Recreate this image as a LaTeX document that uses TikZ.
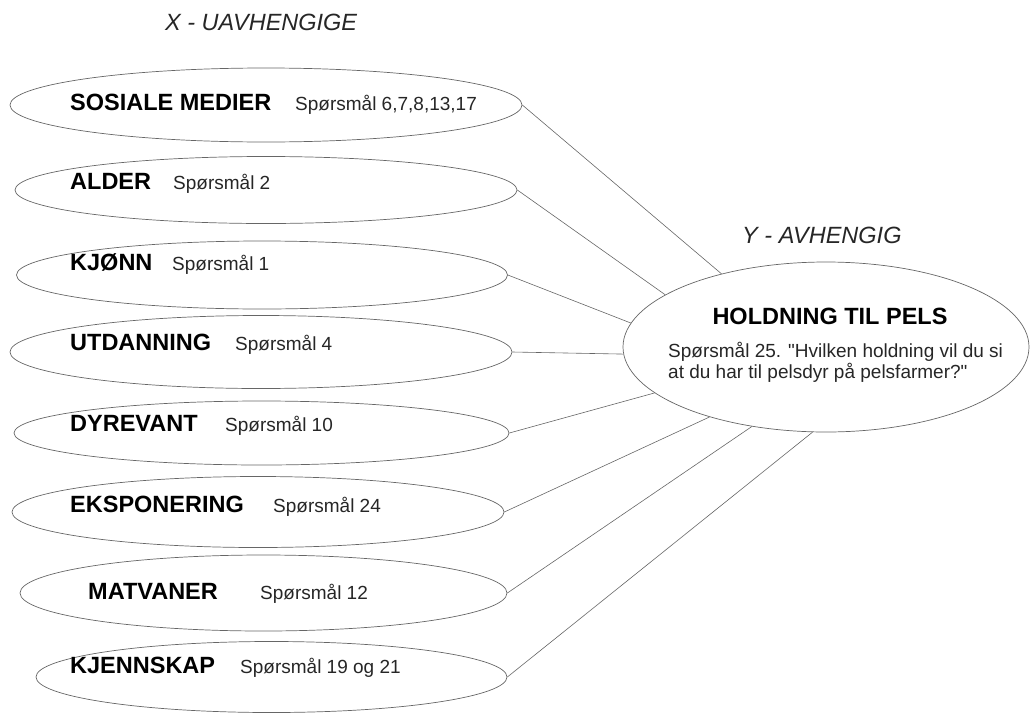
\documentclass[tikz,border=0pt]{standalone}
\usepackage{fontspec}
\setmainfont{Liberation Sans}[Ligatures=TeXOff]
\usetikzlibrary{shapes.geometric}

\tikzset{
    var/.style={draw=black!60, line width=0.7pt, ellipse, inner sep=0pt},
    lbl/.style={anchor=base west, inner sep=0pt, font=\fontsize{23.5}{27}\selectfont\bfseries},
    spm/.style={anchor=base west, inner sep=0pt, font=\fontsize{19}{22}\selectfont, text=black!85},
    hdr/.style={anchor=base west, inner sep=0pt, font=\fontsize{23.5}{27}\selectfont\itshape, text=black!85},
    link/.style={draw=black!60, line width=0.6pt}
}

\begin{document}
\begin{tikzpicture}[x=1pt,y=-1pt]
    \useasboundingbox (0,0) rectangle (1030,715);

    %headings:
    \node[hdr] (xhdr) at (165,30) {X - UAVHENGIGE};
    \node[hdr] (yhdr) at (742,243) {Y - AVHENGIG};

    %independent variables:
    \node[var, minimum width=512pt, minimum height=74pt] (sos) at (266,105) {};
    \node[var, minimum width=502pt, minimum height=67pt] (alder) at (266,190) {};
    \node[var, minimum width=491pt, minimum height=68pt] (kjonn) at (262,275) {};
    \node[var, minimum width=502pt, minimum height=73pt] (utd) at (261,352) {};
    \node[var, minimum width=495pt, minimum height=64pt] (dyr) at (261.5,433) {};
    \node[var, minimum width=492pt, minimum height=71pt] (eksp) at (258,512) {};
    \node[var, minimum width=487pt, minimum height=76pt] (mat) at (263.5,593) {};
    \node[var, minimum width=471pt, minimum height=71pt] (kjenn) at (271.5,677) {};

    \node[lbl] (sosl) at (70,110) {SOSIALE MEDIER};
    \node[spm] (soss) at (295,110) {Spørsmål 6,7,8,13,17};
    \node[lbl] (alderl) at (70,189) {ALDER};
    \node[spm] (alders) at (173,189) {Spørsmål 2};
    \node[lbl] (kjonnl) at (70,270) {KJØNN};
    \node[spm] (kjonns) at (172,270) {Spørsmål 1};
    \node[lbl] (utdl) at (70,350) {UTDANNING};
    \node[spm] (utds) at (235,350) {Spørsmål 4};
    \node[lbl] (dyrl) at (70,431) {DYREVANT};
    \node[spm] (dyrs) at (225,431) {Spørsmål 10};
    \node[lbl] (ekspl) at (70,512) {EKSPONERING};
    \node[spm] (eksps) at (273,512) {Spørsmål 24};
    \node[lbl] (matl) at (88,599) {MATVANER};
    \node[spm] (mats) at (260,599) {Spørsmål 12};
    \node[lbl] (kjennl) at (70,673) {KJENNSKAP};
    \node[spm] (kjenns) at (240,673) {Spørsmål 19 og 21};

    %dependent variable:
    \node[var, minimum width=406pt, minimum height=170pt] (pels) at (826,347) {};
    \node[lbl, anchor=base] (pelsl) at (830,324) {HOLDNING TIL PELS};
    \node[anchor=north west, inner sep=0pt, align=left, text=black!85,
          font=\fontsize{19}{20.5}\selectfont] (pelss) at (668,342)
        {Spørsmål 25. "Hvilken holdning vil du si\\at du har til pelsdyr på pelsfarmer?"};

    %connections:
    \foreach \e/\a in {sos/145, alder/162, kjonn/173, utd/182, dyr/195, eksp/211, mat/227, kjenn/261}
        \draw[link] (\e.east) -- (pels.\a);

\end{tikzpicture}
\end{document}
